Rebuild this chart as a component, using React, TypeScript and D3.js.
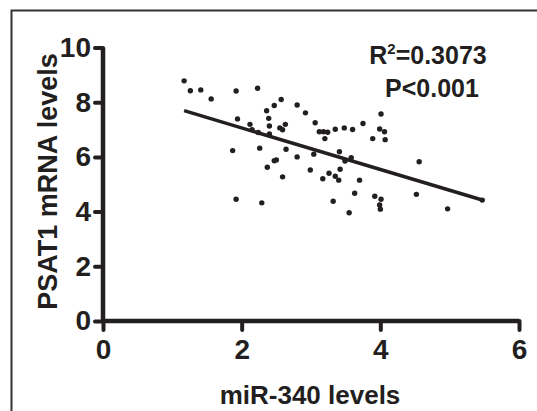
import React, { useEffect, useRef } from 'react';
import * as d3 from 'd3';

// miR-340 levels (x) and PSAT1 mRNA levels (y)
const mir340 = [
  1.17, 1.26, 1.41, 1.56, 1.92, 2.23, 2.36, 2.47, 2.57, 2.80, 2.92, 2.39, 1.94,
  2.12, 2.15, 2.24, 2.40, 2.55, 2.59, 2.63, 2.40, 3.06, 3.12, 3.18, 3.24, 3.20,
  3.35, 1.87, 2.26, 2.64, 2.80, 3.04, 2.37, 2.47, 2.50, 2.59, 2.99, 3.17, 3.26,
  3.35, 3.40, 1.92, 2.29, 3.32, 3.48, 3.60, 3.75, 4.01, 3.99, 4.06, 3.89, 4.07,
  3.41, 3.58, 3.49, 4.56, 3.42, 3.70, 3.63, 3.55, 3.92, 4.01, 3.99, 4.00, 4.52,
  4.97, 5.47,
];
const psat1 = [
  8.78, 8.42, 8.45, 8.12, 8.41, 8.51, 7.69, 7.88, 8.10, 7.90, 7.61, 7.41, 7.39,
  7.19, 6.99, 6.89, 7.13, 7.06, 6.99, 7.19, 6.84, 7.25, 6.92, 6.92, 6.90, 6.67,
  7.01, 6.23, 6.32, 6.28, 6.00, 6.10, 5.62, 5.86, 5.89, 5.27, 5.52, 5.20, 5.40,
  5.29, 5.15, 4.45, 4.32, 4.38, 7.06, 7.00, 7.22, 7.57, 7.02, 6.92, 6.67, 6.63,
  6.19, 5.97, 5.85, 5.82, 5.55, 5.15, 4.67, 3.96, 4.56, 4.45, 4.24, 4.09, 4.63,
  4.10, 4.42,
];

const xTicks = [0, 2, 4, 6];
const yTicks = [0, 2, 4, 6, 8, 10];

// linear fit shown on the plot
const fitSlope = -0.76;
const fitIntercept = 8.58;

const xTitle = 'miR-340 levels';
const yTitle = 'PSAT1 mRNA levels';
const r2Text = '0.3073';
const pText = 'P<0.001';

const ink = '#231f20';
const font = '"Liberation Sans", Arial, sans-serif';

const App = () => {
  const svgRef = useRef(null);

  useEffect(() => {
    const svg = d3.select(svgRef.current);
    svg.selectAll('*').remove();

    const x = d3.scaleLinear().domain([0, 6]).range([103, 519]);
    const y = d3.scaleLinear().domain([0, 10]).range([321, 47.5]);

    // outer frame (runs off the right/bottom edge in the original)
    svg.append('rect')
      .attr('x', 11.5).attr('y', 10.5)
      .attr('width', 700).attr('height', 700)
      .attr('fill', 'none')
      .attr('stroke', '#333')
      .attr('stroke-width', 2);

    // x axis
    const gx = svg.append('g')
      .attr('transform', `translate(0, ${y(0)})`)
      .call(d3.axisBottom(x).tickValues(xTicks).tickSize(9).tickPadding(9).tickFormat(d3.format('d')));
    gx.select('.domain')
      .attr('d', `M${x(0)},0H${x(6)}`)
      .attr('stroke', ink).attr('stroke-width', 4.5);
    gx.selectAll('.tick line')
      .attr('stroke', ink).attr('stroke-width', 4).attr('stroke-linecap', 'round');
    gx.selectAll('.tick text')
      .attr('fill', ink)
      .attr('font-family', font).attr('font-weight', 'bold').attr('font-size', 28);

    // y axis
    const gy = svg.append('g')
      .attr('transform', `translate(${x(0)}, 0)`)
      .call(d3.axisLeft(y).tickValues(yTicks).tickSize(8).tickPadding(4).tickFormat(d3.format('d')));
    gy.select('.domain')
      .attr('d', `M0,${y(0)}V${y(10)}`)
      .attr('stroke', ink).attr('stroke-width', 4.5);
    gy.selectAll('.tick line')
      .attr('stroke', ink).attr('stroke-width', 4).attr('stroke-linecap', 'round');
    gy.selectAll('.tick text')
      .attr('fill', ink)
      .attr('font-family', font).attr('font-weight', 'bold').attr('font-size', 28);

    // regression line
    const [xMin, xMax] = d3.extent(mir340);
    svg.append('line')
      .attr('x1', x(xMin)).attr('y1', y(fitIntercept + fitSlope * xMin))
      .attr('x2', x(xMax)).attr('y2', y(fitIntercept + fitSlope * xMax))
      .attr('stroke', ink).attr('stroke-width', 3.5);

    // points
    svg.append('g')
      .selectAll('circle')
      .data(mir340.map((v, i) => [v, psat1[i]]))
      .enter().append('circle')
      .attr('cx', d => x(d[0]))
      .attr('cy', d => y(d[1]))
      .attr('r', 2.7)
      .attr('fill', ink);

    // axis titles
    svg.append('text')
      .attr('x', 310).attr('y', 404)
      .attr('text-anchor', 'middle')
      .attr('font-family', font).attr('font-weight', 'bold').attr('font-size', 26)
      .attr('fill', ink)
      .text(xTitle);

    svg.append('text')
      .attr('transform', 'translate(56.5, 181.5) rotate(-90)')
      .attr('text-anchor', 'middle')
      .attr('font-family', font).attr('font-weight', 'bold').attr('font-size', 27)
      .attr('fill', ink)
      .text(yTitle);

    // stats annotation
    const r2 = svg.append('text')
      .attr('x', 428).attr('y', 63.5)
      .attr('text-anchor', 'middle')
      .attr('font-family', font).attr('font-weight', 'bold').attr('font-size', 25)
      .attr('fill', ink);
    r2.append('tspan').text('R');
    r2.append('tspan').attr('font-size', 15).attr('dy', -10).text('2');
    r2.append('tspan').attr('dy', 10).text(`=${r2Text}`);

    svg.append('text')
      .attr('x', 432).attr('y', 96.5)
      .attr('text-anchor', 'middle')
      .attr('font-family', font).attr('font-weight', 'bold').attr('font-size', 25)
      .attr('fill', ink)
      .text(pText);
  }, []);

  return (
    <svg
      ref={svgRef}
      width={537}
      height={411}
      style={{ position: 'absolute', left: 0, top: 0, background: '#fff' }}
    />
  );
};

export default App;
